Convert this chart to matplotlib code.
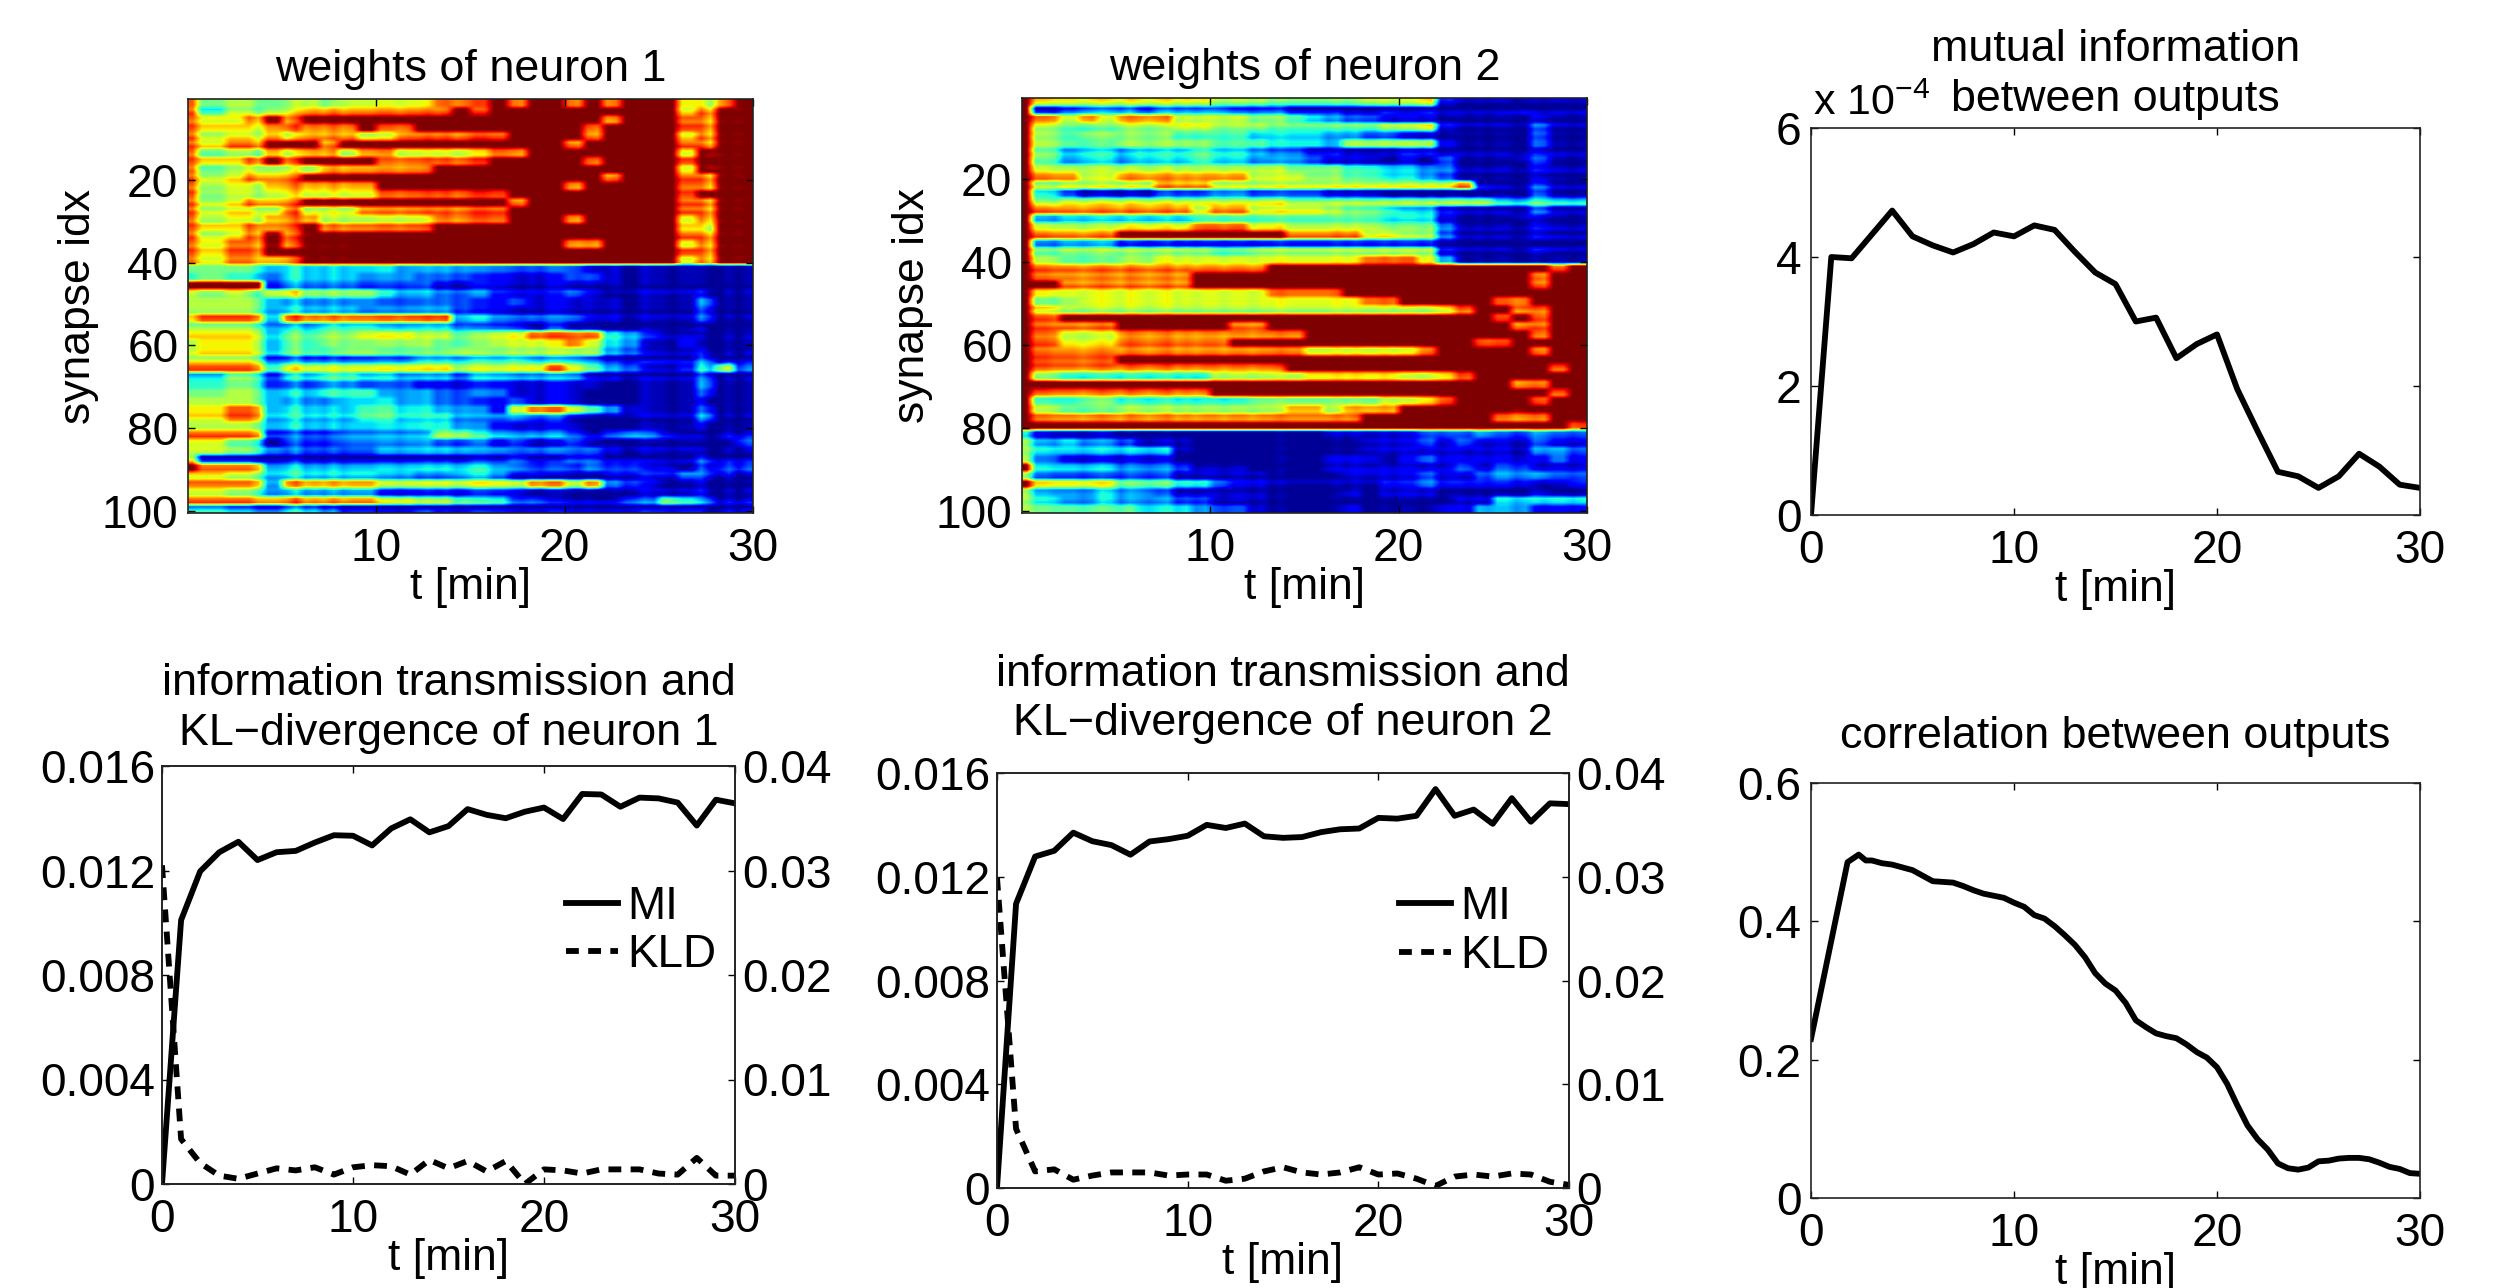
import numpy as np
import matplotlib
matplotlib.use('Agg')
import matplotlib.pyplot as plt

plt.rcParams['font.family'] = ['Liberation Sans', 'DejaVu Sans']
plt.rcParams['mathtext.fontset'] = 'custom'
plt.rcParams['mathtext.rm'] = 'Liberation Sans'
plt.rcParams['mathtext.default'] = 'rm'

W, H = 2493, 1288
TICK_FS = 33.2
TITLE_FS = 32.3
LABEL_FS = 32

# minutes, one value per minute
t = list(range(31))

mi_between = [0, 4.0, 3.98, 4.35, 4.72, 4.32, 4.18, 4.07, 4.2, 4.38, 4.32, 4.49, 4.42, 4.08, 3.76, 3.58,
              3.0, 3.06, 2.43, 2.65, 2.8, 1.95, 1.3, 0.67, 0.6, 0.42, 0.6, 0.95, 0.75, 0.47, 0.42]

mi_n1 = [0, .0101, .01197, .0127, .0131, .0124, .0127, .01275, .01307, .01335, .01333, .01296, .01361, .01396,
         .01346, .0137, .01435, .01413, .014, .01425, .01441, .01397, .01493, .01491, .01444, .01479, .01476,
         .0146, .01372, .01471, .01457]
kld_n1 = [.0305, .0043, .002, .0008, .0005, .001, .0015, .0013, .0016, .0009, .0016, .0018, .0017, .0009,
          .0023, .0015, .0022, .0012, .0022, 0, .0014, .0013, .001, .0014, .0014, .0014, .001, .0009, .0025,
          .0008, .0008]

mi_n2 = [0, .01096, .01278, .013, .0137, .01337, .01322, .01285, .01336, .01345, .01358, .014, .01388, .01405,
         .01356, .0135, .01353, .01372, .01383, .01386, .01427, .01424, .01435, .01538, .01435, .01459, .01404,
         .01503, .01412, .01483, .0148]
kld_n2 = [.0299, .0057, .0016, .0018, .0008, .0012, .0015, .0015, .0015, .0012, .0013, .0013, .0007, .0009,
          .0016, .002, .0015, .0013, .0015, .002, .0013, .0014, .0009, .0002, .0011, .0013, .0011, .0014, .0013,
          .0006, .0003]

corr_t = [0, 1.8, 2.35, 2.7, 3, 3.5, 4, 4.5, 5, 5.5, 6, 6.5, 7, 7.5, 8, 8.5, 9, 9.5, 10, 10.5, 11, 11.5, 12, 12.5,
          13, 13.5, 14, 14.5, 15, 15.5, 16, 16.5, 17, 17.5, 18, 18.5, 19, 19.5, 20, 20.5, 21, 21.5, 22, 22.5, 23,
          23.5, 24, 24.5, 25, 25.5, 26, 26.5, 27, 27.5, 28, 28.5, 29, 29.5, 30]
corr = [.23, .4855, .4965, .488, .488, .484, .482, .478, .474, .466, .458, .457, .456, .451, .445, .44, .437,
        .434, .427, .421, .409, .404, .393, .38, .366, .348, .325, .31, .3, .282, .257, .247, .238, .234, .231,
        .222, .211, .203, .189, .165, .134, .105, .085, .07, .05, .043, .041, .044, .053, .054, .057, .058, .058,
        .056, .051, .045, .042, .036, .035]

# weight levels: one string per 2 synapses, one digit per minute
weights_n1 = [
    "85666 67677 77788 89899 89899 97789",
    "84667 78888 88889 89999 99999 97899",
    "87789 89999 99999 99999 99899 98899",
    "87778 88889 88999 99999 98999 98899",
    "86778 78887 78888 88999 98999 97899",
    "87889 99899 99999 99999 89999 98899",
    "85668 78878 87777 78899 99999 97999",
    "87789 89999 88888 89999 98999 98999",
    "85677 77888 88899 99999 99999 97999",
    "86788 89999 99999 99999 99899 98899",
    "86778 88888 99999 99999 89999 98899",
    "85667 77777 88888 88999 99999 98999",
    "86788 89999 99999 99899 99999 98899",
    "86777 87778 88888 88999 99999 98899",
    "86778 88777 77788 88999 89999 97899",
    "87788 89888 88899 99999 99999 97799",
    "86789 89999 99999 99999 99999 98899",
    "87889 89999 99999 99999 88999 97899",
    "87889 99999 99999 99999 99999 98899",
    "87888 89999 99999 99999 99999 97899",
    "55554 44444 43333 22222 21100 00000",
    "45443 44443 33222 11111 22100 00000",
    "99992 33332 22211 11111 11100 00000",
    "65657 76666 43322 21111 21000 00100",
    "66664 33333 22222 11211 11100 00300",
    "66664 44443 33332 11111 11100 00200",
    "78884 88888 88883 32222 21100 00200",
    "66664 44555 44443 22212 11000 00100",
    "77774 55667 77665 56788 88431 00000",
    "67774 55666 66655 56777 87430 01000",
    "67774 55566 55556 55666 66320 00100",
    "66662 22222 22333 33433 32100 00200",
    "88885 77777 77776 66778 75320 01462",
    "33552 44554 43332 33333 31100 00200",
    "44552 22332 22111 11111 11000 00300",
    "55664 44555 33322 22111 10000 00200",
    "66664 33344 43322 11211 10000 00100",
    "77884 44445 54433 21788 75310 00200",
    "77884 44445 54443 22322 10000 00300",
    "66664 44444 44443 21111 10000 00100",
    "88882 22233 33366 43333 21232 10011",
    "77551 22233 33322 21211 21000 00002",
    "66553 22222 33333 22222 22100 00000",
    "71111 11111 11111 11211 22110 00211",
    "98884 44444 44444 43322 23221 10222",
    "77664 44444 33223 32110 00111 12210",
    "88884 88888 77777 77788 78321 00100",
    "66553 33333 11111 11100 00000 00100",
    "88888 88888 77665 44221 11122 54311",
    "33222 33211 00100 00000 00000 00000",
]

weights_n2 = [
    "97777 77777 66655 55566 67100 00000",
    "91233 32333 32221 11001 01000 01000",
    "98787 88877 77665 43221 11000 00100",
    "96555 66677 66655 55556 67100 00200",
    "96566 66655 55444 43322 11000 00200",
    "96555 66666 55544 43666 66100 00200",
    "95344 34445 44322 11000 11000 00100",
    "95344 34445 44333 21110 10200 01200",
    "96666 66666 66665 55443 32200 00100",
    "98877 88888 88777 66554 43200 00100",
    "96777 77888 77777 77777 77781 00200",
    "94211 11222 33222 21110 00000 00200",
    "96777 77777 77776 66666 66666 44544",
    "98888 88887 88777 76554 33100 00200",
    "93444 44445 55555 55554 44100 01100",
    "96666 77778 88776 66665 55200 00100",
    "98888 99999 99998 88877 66200 00100",
    "93444 22222 22222 22222 22100 01000",
    "95666 66666 55666 66666 66100 00100",
    "96555 66777 77777 77788 87300 00000",
    "98888 88888 88899 99999 99999 99989",
    "98888 88889 99999 99999 99999 99899",
    "99888 88889 99999 99999 99999 99899",
    "97777 77777 77788 88999 99999 99999",
    "95677 77777 77777 77788 99999 88999",
    "97666 66666 66666 66666 66789 98899",
    "98999 99999 99999 99999 99999 89899",
    "98888 99999 98899 99999 99999 98899",
    "98777 88888 88888 99999 99999 99899",
    "98777 88888 89999 99999 99998 89999",
    "98888 88888 88888 77777 78999 99899",
    "98888 99999 99999 99999 99999 99999",
    "98888 88888 88889 99999 99999 99989",
    "95444 44444 66666 77777 66789 99999",
    "99999 99999 99999 99999 99999 98899",
    "98888 88888 99999 99999 99999 99989",
    "94455 44444 44555 55556 67899 99899",
    "97666 77777 77778 87888 99999 99999",
    "98888 88888 88888 88899 99999 88899",
    "99999 99999 99999 99999 99999 99998",
    "41111 00000 00000 01111 12223 22322",
    "63433 21110 00000 00011 12121 11211",
    "64444 44410 00000 00011 11111 11332",
    "62111 11100 00000 01110 12111 11121",
    "94444 33321 11000 01111 11121 22111",
    "62222 22211 11100 00111 12112 33322",
    "97777 55544 21100 00001 12111 11001",
    "63334 33211 11100 00101 11000 00100",
    "64334 33322 11100 00000 00011 44444",
    "65555 54443 22100 00100 00113 33111",
]

# vertical stripes per half minute, in steps on the colour scale
stripes_n1 = [0, 0, 0, 0, 0, 0, 0, -3, -3, -3, -2, 1, -3, -2, -3, -1, -3, -2, -2, -2, -1, -1, -2, -1, -1, 0, -1, 0, -2, -1,
              1, 1, 0, 0, -1, -2, -1, -2, 0, 0, -1, -2, -1, -2, -2, -1, -2, -1, 1, 0, 0, -1, 0, 0, 0, -4, -3, 0, -3, 0]
stripes_n2 = [0, 0, 0, -1, -1, -1, -2, -1, 0, -1, -2, 0, -1, -2, -1, 0, -2, -1, -2, -1, -1, -2, -1, -1, -2, -1, -1, 0, -1, -1,
              -1, -1, -1, 0, -1, 0, -1, -1, 0, -1, 0, 0, -1, 0, -1, 0, 0, -1, 0, -1, 0, 0, -2, -1, 0, -1, 0, 0, -1, 0]

# thin streaks per synapse: 2 is none, lower is colder, higher is warmer
streaks_n1 = "2213213213 1321321213 2132131321 3213213212 2222213222 2132022322 2314231322 2222223122 1321320312 3121321304"
streaks_n2 = "3103213121 2213212312 0312031321 2313103122 1312132222 3123132123 1232313212 3123102132 2121212212 2132122122"

# colour position for each digit, the ends reach past the scale so dark areas stay flat
levels = [.05, .12, .24, .32, .40, .49, .57, .65, .82, 1.12]


def to_matrix(rows, stripes, streaks):
    m = np.array([[levels[int(c)] for c in r.replace(' ', '')] for r in rows])
    m = np.repeat(np.repeat(m, 2, axis=0), 2, axis=1)
    # the first sample only lasts a fraction of a minute
    m[:, 1] = m[:, 2]
    m = m + np.array(stripes) * 0.03
    m = m + (np.array([int(c) for c in streaks.replace(' ', '')]) - 2)[:, None] * 0.05
    return np.clip(m, 0.02, 1)


def make_axes(fig, left, top, right, bottom):
    ax = fig.add_axes([left / W, 1 - bottom / H, (right - left) / W, (bottom - top) / H])
    style(ax)
    return ax


def style(ax):
    ax.tick_params(direction='in', length=5, width=1, labelsize=TICK_FS, top=True, right=True, pad=7)
    ax.tick_params(axis='x', pad=10)
    for s in ax.spines.values():
        s.set_linewidth(1.2)
        s.set_color('#222222')


def heatmap(ax, rows, stripes, streaks, title):
    ax.imshow(to_matrix(rows, stripes, streaks), cmap='jet', vmin=0, vmax=1, aspect='auto', interpolation='bilinear',
              extent=[0, 30, 100.5, 0.5])
    ax.set_xticks([10, 20, 30])
    ax.set_yticks([20, 40, 60, 80, 100])
    ax.set_title(title, fontsize=TITLE_FS, pad=13)
    ax.set_xlabel('t [min]', fontsize=LABEL_FS, labelpad=-3)
    ax.set_ylabel('synapse idx', fontsize=LABEL_FS, labelpad=2)


def info_panel(ax, mi, kld, title, title_pad, legend_xy):
    ax.plot(t, mi, color='k', lw=4.2, label='MI')
    ax.set_xlim(0, 30)
    ax.set_ylim(0, 0.016)
    ax.set_xticks([0, 10, 20, 30])
    ax.set_yticks([0, .004, .008, .012, .016])
    ax.set_yticklabels(['0', '0.004', '0.008', '0.012', '0.016'])
    ax.tick_params(axis='y', right=False, pad=5)
    ax.set_title(title, fontsize=TITLE_FS, pad=title_pad, linespacing=1.28)
    ax.set_xlabel('t [min]', fontsize=LABEL_FS, labelpad=-3)
    ax2 = ax.twinx()
    style(ax2)
    ax2.plot(t, kld, color='k', lw=4.2, ls=(0, (2.2, 1.6)), label='KLD')
    ax2.set_xlim(0, 30)
    ax2.set_ylim(0, 0.04)
    ax2.set_yticks([0, .01, .02, .03, .04])
    ax2.set_yticklabels(['0', '0.01', '0.02', '0.03', '0.04'])
    ax2.tick_params(axis='y', left=False, right=True, pad=5)
    h = ax.get_lines() + ax2.get_lines()
    ax2.legend(h, ['MI', 'KLD'], frameon=False, fontsize=33, loc='upper right',
               bbox_to_anchor=legend_xy, handlelength=1.13, handletextpad=0.2, labelspacing=0.1,
               borderpad=0, borderaxespad=0)


fig = plt.figure(figsize=(W / 100, H / 100), dpi=100)

ax = make_axes(fig, 188, 99, 753, 513)
heatmap(ax, weights_n1, stripes_n1, streaks_n1, 'weights of neuron 1')

ax = make_axes(fig, 1022, 98, 1587, 513)
heatmap(ax, weights_n2, stripes_n2, streaks_n2, 'weights of neuron 2')

# mutual information between outputs
ax = make_axes(fig, 1811, 128, 2420, 515)
ax.plot(t, mi_between, color='k', lw=4.2)
ax.set_xlim(0, 30)
ax.set_ylim(0, 6)
ax.set_xticks([0, 10, 20, 30])
ax.set_yticks([0, 2, 4, 6])
ax.set_title('mutual information\nbetween outputs', fontsize=TITLE_FS, pad=12, linespacing=1.28)
ax.set_xlabel('t [min]', fontsize=LABEL_FS, labelpad=-3)
ax.text(0.004, 1.01, r'x 10$^{-4}$', transform=ax.transAxes, fontsize=31, ha='left', va='bottom')

ax = make_axes(fig, 162, 766, 735, 1184)
info_panel(ax, mi_n1, kld_n1, 'information transmission and\nKL\u2212divergence of neuron 1', 15, (0.967, 0.716))

ax = make_axes(fig, 997, 773, 1569, 1188)
info_panel(ax, mi_n2, kld_n2, 'information transmission and\nKL\u2212divergence of neuron 2', 27, (0.965, 0.73))

# correlation between outputs
ax = make_axes(fig, 1811, 783, 2420, 1198)
ax.plot(corr_t, corr, color='k', lw=4.2)
ax.set_xlim(0, 30)
ax.set_ylim(0, 0.6)
ax.set_xticks([0, 10, 20, 30])
ax.set_yticks([0, .2, .4, .6])
ax.set_yticklabels(['0', '0.2', '0.4', '0.6'])
ax.set_title('correlation between outputs', fontsize=TITLE_FS, pad=25)
ax.set_xlabel('t [min]', fontsize=LABEL_FS, labelpad=-3)

fig.savefig('out.png', dpi=100)
